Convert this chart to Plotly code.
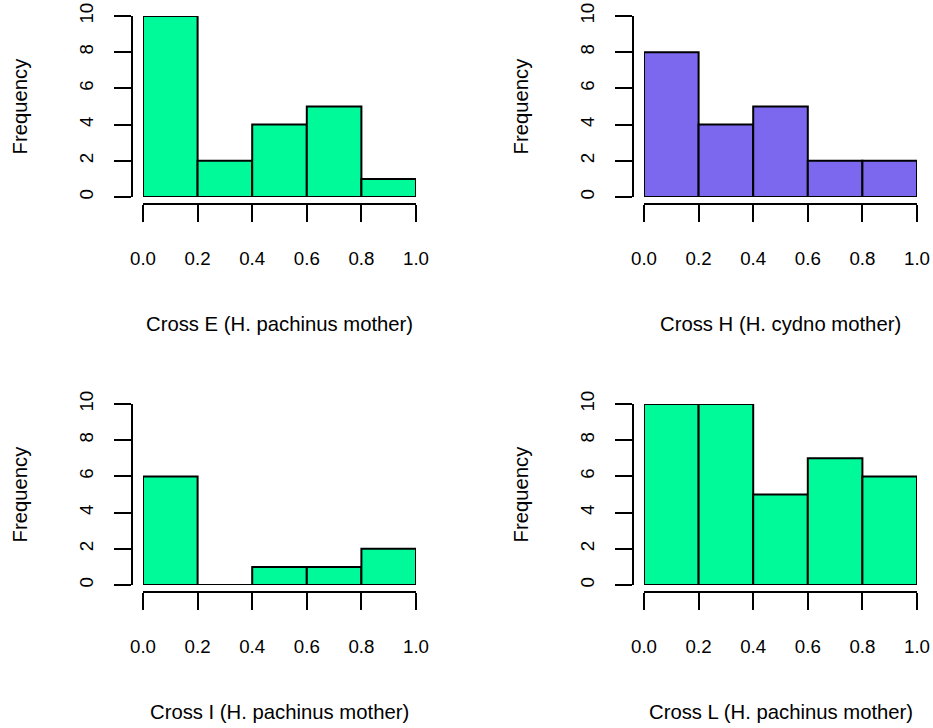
import plotly.graph_objects as go

# ---- data ----
bin_edges = [0.0, 0.2, 0.4, 0.6, 0.8, 1.0]
counts_E = [10, 2, 4, 5, 1]
counts_H = [8, 4, 5, 2, 2]
counts_I = [6, 0, 1, 1, 2]
counts_L = [10, 10, 5, 7, 6]
titles = ["Cross E (H. pachinus mother)", "Cross H (H. cydno mother)",
          "Cross I (H. pachinus mother)", "Cross L (H. pachinus mother)"]
colors = ["#00FA9A", "#7B68EE", "#00FA9A", "#00FA9A"]
x_ticks = [0.0, 0.2, 0.4, 0.6, 0.8, 1.0]
x_ticklabels = ["0.0", "0.2", "0.4", "0.6", "0.8", "1.0"]
y_ticks = [0, 2, 4, 6, 8, 10]
y_ticklabels = ["0", "2", "4", "6", "8", "10"]

W, H = 933, 728
FONT = "Liberation Sans, Arial, sans-serif"
TICK_SIZE = 18.7
LABEL_SIZE = 20.3

# panel pixel geometry: (x0, x1, ytop, ybottom, yaxis_x, xaxis_y, title_y)
panels = [
    (143, 416, 16, 197, 132, 204, 324),
    (644, 917, 16, 197, 633, 204, 324),
    (143, 416, 404, 585, 132, 592, 712),
    (644, 917, 404, 585, 633, 592, 712),
]
all_counts = [counts_E, counts_H, counts_I, counts_L]

fig = go.Figure()
layout = dict(
    width=W, height=H,
    margin=dict(l=0, r=0, t=0, b=0, pad=0, autoexpand=False),
    paper_bgcolor="white", plot_bgcolor="white", showlegend=False,
    font=dict(family=FONT, size=TICK_SIZE, color="black"),
)
annotations = []

centers = [(bin_edges[i] + bin_edges[i + 1]) / 2 for i in range(len(bin_edges) - 1)]
widths = [bin_edges[i + 1] - bin_edges[i] for i in range(len(bin_edges) - 1)]

for k, (px0, px1, pyt, pyb, yax_x, xax_y, title_y) in enumerate(panels):
    idx = "" if k == 0 else str(k + 1)
    xa, ya = "x" + idx, "y" + idx
    counts = all_counts[k]
    fig.add_trace(go.Bar(
        x=centers, y=counts, width=widths, xaxis=xa, yaxis=ya,
        marker=dict(color=colors[k], line=dict(color="black", width=2)),
        cliponaxis=False, hoverinfo="x+y",
    ))
    # zero-count bins drawn as flat lines (as R does)
    for i, c in enumerate(counts):
        if c == 0:
            fig.add_trace(go.Scatter(
                x=[bin_edges[i], bin_edges[i + 1]], y=[0, 0], mode="lines",
                line=dict(color="black", width=2), xaxis=xa, yaxis=ya,
                cliponaxis=False, hoverinfo="skip",
            ))
    layout["xaxis" + idx] = dict(
        domain=[px0 / W, px1 / W], range=[0, 1], anchor="free",
        position=1 - xax_y / H, showline=True, linecolor="black", linewidth=2,
        ticks="outside", ticklen=17, tickwidth=2, tickcolor="black",
        tickvals=x_ticks, ticktext=x_ticklabels, showgrid=False, zeroline=False,
        ticklabelstandoff=21, tickfont=dict(size=TICK_SIZE, family=FONT),
        automargin=False,
    )
    layout["yaxis" + idx] = dict(
        domain=[1 - pyb / H, 1 - pyt / H], range=[0, 10], anchor="free",
        position=yax_x / W, showline=True, linecolor="black", linewidth=2,
        ticks="outside", ticklen=17, tickwidth=2, tickcolor="black",
        tickvals=y_ticks, ticktext=y_ticklabels, tickangle=-90,
        showgrid=False, zeroline=False, ticklabelstandoff=14,
        tickfont=dict(size=TICK_SIZE, family=FONT), automargin=False,
    )
    annotations.append(dict(
        text=titles[k], x=(px0 + px1) / 2 / W, y=1 - title_y / H,
        xref="paper", yref="paper", showarrow=False,
        xanchor="center", yanchor="middle", font=dict(size=LABEL_SIZE, family=FONT),
    ))
    annotations.append(dict(
        text="Frequency", x=(yax_x - 113) / W, y=1 - (pyt + pyb) / 2 / H,
        xref="paper", yref="paper", showarrow=False, textangle=-90,
        xanchor="center", yanchor="middle", font=dict(size=LABEL_SIZE, family=FONT),
    ))

layout["annotations"] = annotations
fig.update_layout(**layout)
fig.write_html("out.html")
